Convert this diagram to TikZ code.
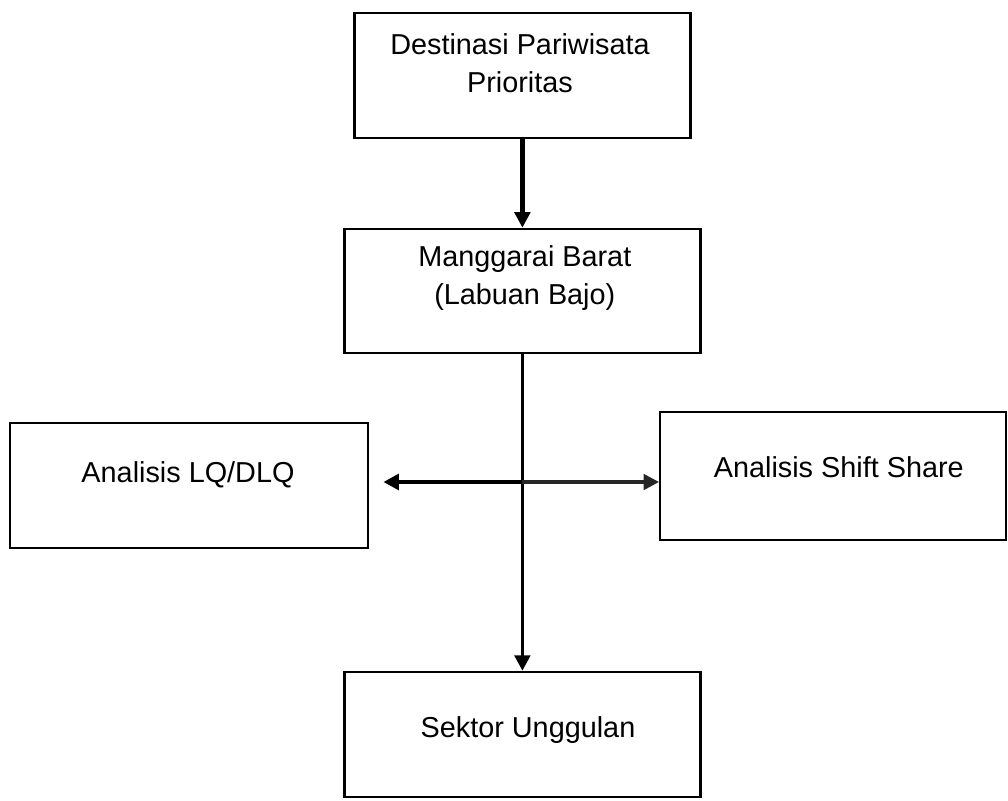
\documentclass[tikz,border=0pt]{standalone}
\usepackage{fontspec}
\setmainfont{Liberation Sans}
\usetikzlibrary{arrows.meta}
\begin{document}
\begin{tikzpicture}[x=1cm,y=1cm,every node/.style={font=\fontsize{20.5}{27}\selectfont},
  box/.style={draw,line width=1.6pt,minimum width=8.9cm,minimum height=3.125cm,inner sep=0pt},
  flow/.style={line width=2.6pt,-{Triangle[width=11pt,length=11pt]}}]
\useasboundingbox (0,0) rectangle (25.2,20);
\node[box,minimum width=8.4cm] (dest) at (13.06,18.11) {};
\node[box,minimum height=3.1cm] (mang) at (13.06,12.73) {};
\node[box,minimum width=8.95cm] (lq) at (4.73,7.86) {};
\node[box,minimum width=8.65cm,minimum height=3.2cm] (ss) at (20.83,8.1) {};
\node[box] (unggul) at (13.06,1.64) {};
\node[align=center] (destTxt) at (13.0,18.43) {Destinasi Pariwisata\\Prioritas};
\node[align=center] (mangTxt) at (13.12,13.04) {Manggarai Barat\\(Labuan Bajo)};
\node (lqTxt) at (4.7,8.13) {Analisis LQ/DLQ};
\node (ssTxt) at (20.97,8.33) {Analisis Shift Share};
\node (unggulTxt) at (13.2,1.75) {Sektor Unggulan};
\coordinate (hub) at (13.06,7.95);
\draw[flow,line width=3pt] (dest) -- (mang);
\draw[flow] (mang) -- (unggul);
\draw[flow,line width=3.4pt,shorten >=0.35cm] ([xshift=0.5cm]hub) -- (hub -| lq.east);
\draw[flow,line width=2.4pt,black!85] (hub) -- (hub -| ss.west);
\end{tikzpicture}
\end{document}
